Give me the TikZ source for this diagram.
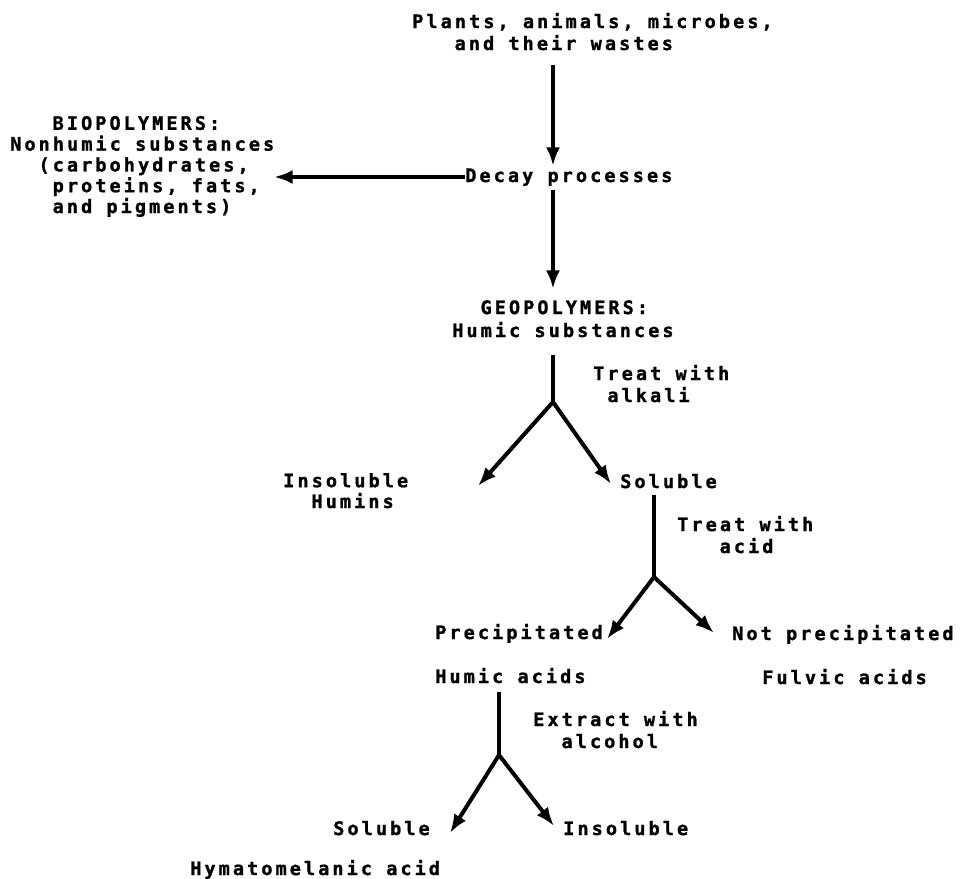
\documentclass[tikz,border=0pt]{standalone}
\usepackage{fontspec}
\newfontfamily\tw[LetterSpace=16.5,FakeBold=1.2]{DejaVu Sans Mono Bold}
\usetikzlibrary{arrows.meta}
\newlength\cw
\setlength\cw{10.6pt}
\begin{document}
\begin{tikzpicture}[x=0.75pt,y=-0.75pt,
  lbl/.style={inner sep=0pt, anchor=base west, align=left,
    font={\tw\fontsize{13.9pt}{16.5pt}\selectfont}},
  tight/.style={font={\tw\fontsize{13.9pt}{15.6pt}\selectfont}},
  loose/.style={font={\tw\fontsize{13.9pt}{17.2pt}\selectfont}},
  flow/.style={line width=3pt, -{Latex[length=14pt,width=10.5pt]}},
  stem/.style={line width=3pt}]
\fill[white] (0,0) rectangle (960,878);
\useasboundingbox (0,0) rectangle (960,878);

% text nodes (base anchor = baseline of the last line)
\node[lbl] (plants) at (412,50) {Plants, animals, microbes,\\\hspace*{3\cw}and their wastes};
\node[lbl] (decay) at (465,182) {Decay processes};
\node[lbl,tight] (bio) at (10,213) {\hspace*{3\cw}BIOPOLYMERS:\\Nonhumic substances\\\hspace*{2\cw}(carbohydrates,\\\hspace*{3\cw}proteins, fats,\\\hspace*{3\cw}and pigments)};
\node[lbl,loose] (geo) at (452,337) {\hspace*{2\cw}GEOPOLYMERS:\\Humic substances};
\node[lbl] (alkali) at (593,402) {Treat with\\\hspace*{1\cw}alkali};
\node[lbl,tight] (humins) at (283,508) {Insoluble\\\hspace*{2\cw}Humins};
\node[lbl] (sol1) at (620,488) {Soluble};
\node[lbl] (acid) at (677,553) {Treat with\\\hspace*{3\cw}acid};
\node[lbl] (precip) at (435,639) {Precipitated};
\node[lbl] (notprecip) at (732,640) {Not precipitated};
\node[lbl] (humic) at (435,683) {Humic acids};
\node[lbl] (fulvic) at (762,684) {Fulvic acids};
\node[lbl] (alcohol) at (533,748) {Extract with\\\hspace*{2\cw}alcohol};
\node[lbl] (sol2) at (333,835) {Soluble};
\node[lbl] (insol2) at (563,835) {Insoluble};
\node[lbl] (hymato) at (190,875) {Hymatomelanic acid};

% connector end points
\coordinate (a1s) at (553,65);
\coordinate (a1e) at (553,166);
\coordinate (a2s) at (465,177);
\coordinate (a2e) at (274,177);
\coordinate (a3s) at (553,190);
\coordinate (a3e) at (553,289);
\coordinate (s1) at (553,355);
\coordinate (f1) at (553,402);
\coordinate (t1l) at (478,486);
\coordinate (t1r) at (611,484);
\coordinate (s2) at (654,495);
\coordinate (f2) at (654,577);
\coordinate (t2l) at (607,639);
\coordinate (t2r) at (714,633);
\coordinate (s3) at (499,692);
\coordinate (f3) at (499,755);
\coordinate (t3l) at (450,833);
\coordinate (t3r) at (554,826);

% connectors
\draw[flow] (a1s) -- (a1e);
\draw[flow] (a2s) -- (a2e);
\draw[flow] (a3s) -- (a3e);
\draw[stem] (s1) -- (f1);
\draw[flow] (f1) -- (t1l);
\draw[flow] (f1) -- (t1r);
\draw[stem] (s2) -- (f2);
\draw[flow] (f2) -- (t2l);
\draw[flow] (f2) -- (t2r);
\draw[stem] (s3) -- (f3);
\draw[flow] (f3) -- (t3l);
\draw[flow] (f3) -- (t3r);
\end{tikzpicture}
\end{document}
